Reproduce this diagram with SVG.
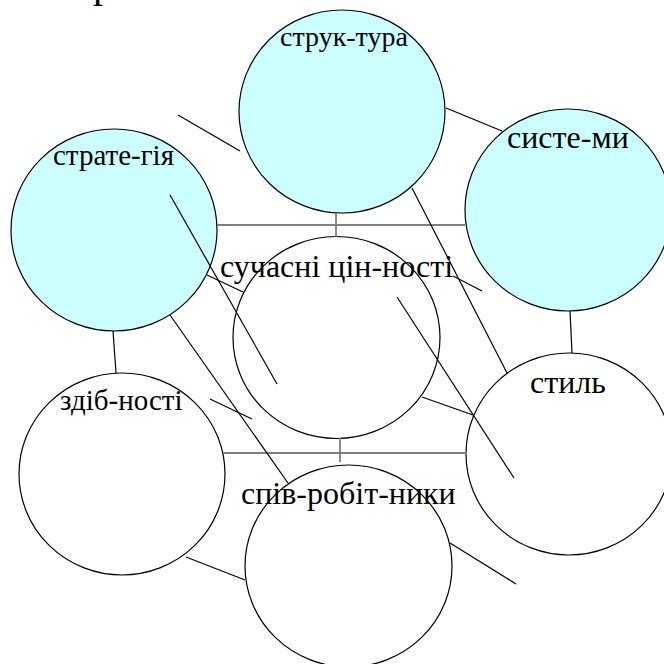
<svg xmlns="http://www.w3.org/2000/svg" width="664" height="664" viewBox="0 0 664 664">
  <style>
    .bg { fill: #ffffff; }
    .node ellipse { stroke: #000000; stroke-width: 1.2; }
    .fill-hi { fill: #ccffff; }
    .fill-lo { fill: #ffffff; }
    .lbl { font-family: "Liberation Serif", "Times New Roman", "DejaVu Serif", serif; fill: #000000; }
    .s28 { font-size: 28px; }
    .s29 { font-size: 29px; }
    .s32 { font-size: 32px; }
    .link { stroke: #000000; stroke-width: 1.2; fill: none; }
    .bus { stroke: #7f7f7f; stroke-width: 1.8; fill: none; }
  </style>
  <rect class="bg" x="0" y="0" width="664" height="664"/>

  <!-- heading clipped at the top edge -->
  <text class="lbl" x="93" y="-3" font-size="40">р</text>

  <!-- nodes -->
  <g id="structure" class="node">
    <ellipse class="fill-hi" cx="342" cy="111.5" rx="103" ry="101.5"/>
    <text class="lbl s28" x="280" y="46">струк-тура</text>
  </g>
  <g id="strategy" class="node">
    <ellipse class="fill-hi" cx="114" cy="230" rx="103" ry="101"/>
    <text class="lbl s29" x="53" y="165">страте-гія</text>
  </g>
  <g id="systems" class="node">
    <ellipse class="fill-hi" cx="568" cy="210" rx="103" ry="101"/>
    <text class="lbl s32" x="507" y="148">систе-ми</text>
  </g>
  <g id="values" class="node">
    <ellipse class="fill-lo" cx="336.5" cy="337.5" rx="103.5" ry="101"/>
    <text class="lbl s32" x="220" y="277">сучасні цін-ності</text>
  </g>
  <g id="skills" class="node">
    <ellipse class="fill-lo" cx="122" cy="474" rx="103" ry="101"/>
    <text class="lbl s29" x="60" y="410">здіб-ності</text>
  </g>
  <g id="staff" class="node">
    <ellipse class="fill-lo" cx="348.5" cy="566" rx="103.5" ry="101"/>
    <text class="lbl s32" x="241" y="504">спів-робіт-ники</text>
  </g>
  <g id="style" class="node">
    <ellipse class="fill-lo" cx="569" cy="454" rx="103" ry="101"/>
    <text class="lbl s32" x="530" y="393">стиль</text>
  </g>

  <!-- connectors -->
  <g id="connectors">
    <line class="bus" x1="217" y1="225" x2="465" y2="225"/>
    <line class="bus" x1="336" y1="213" x2="336" y2="237"/>
    <line class="bus" x1="223" y1="453" x2="467" y2="453"/>
    <line class="bus" x1="340" y1="438" x2="340" y2="462"/>
    <line class="link" x1="113" y1="331" x2="116" y2="373"/>
    <line class="link" x1="570" y1="311" x2="572" y2="353"/>
    <line class="link" x1="178" y1="115" x2="240" y2="151"/>
    <line class="link" x1="446" y1="108" x2="502" y2="131"/>
    <line class="link" x1="170" y1="195" x2="277" y2="384"/>
    <line class="link" x1="412" y1="188" x2="507" y2="373"/>
    <line class="link" x1="397" y1="297" x2="514" y2="478"/>
    <line class="link" x1="453" y1="276" x2="482" y2="291"/>
    <line class="link" x1="207" y1="275" x2="243" y2="292"/>
    <line class="link" x1="170" y1="315" x2="288" y2="483"/>
    <line class="link" x1="210" y1="399" x2="252" y2="419"/>
    <line class="link" x1="186" y1="557" x2="245" y2="580"/>
    <line class="link" x1="422" y1="397" x2="473" y2="415"/>
    <line class="link" x1="450" y1="543" x2="516" y2="584"/>
  </g>
</svg>
